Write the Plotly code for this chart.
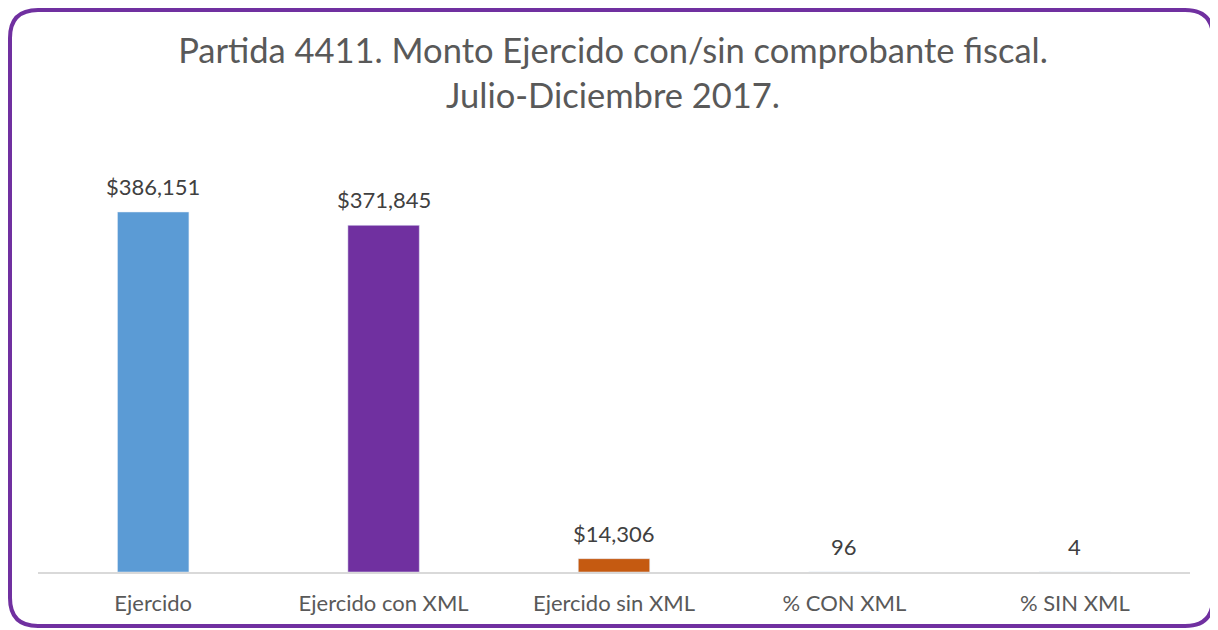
import plotly.graph_objects as go

categories = ["Ejercido", "Ejercido con XML", "Ejercido sin XML", "% CON XML", "% SIN XML"]
values = [386151, 371845, 14306, 96, 4]
labels = ["$386,151", "$371,845", "$14,306", "96", "4"]
colors = ["#5B9BD5", "#7030A0", "#C55A11", "#A5A5A5", "#FFC000"]

# page body has an 8px margin, so the figure is sized to fit the window
W, H = 1210, 622
L, R, T, B = 30, 28, 132, 58
pw, ph = W - L - R, H - T - B
FONT = "Lato"

fig = go.Figure(go.Bar(
    x=categories, y=values, marker_color=colors, width=0.31,
))

for c, v, t in zip(categories, values, labels):
    fig.add_annotation(x=c, y=v, text=t, showarrow=False, yanchor="bottom",
                       yshift=10, font=dict(size=22, color="#404040", family=FONT))

def px(x):
    return (x - L) / pw

def py(y):
    return (H - B - y) / ph

x0, x1, y0, y1, r = 2, 1205, 2, 618, 28
path = (f"M {px(x0+r)},{py(y0)} L {px(x1-r)},{py(y0)} "
        f"Q {px(x1)},{py(y0)} {px(x1)},{py(y0+r)} "
        f"L {px(x1)},{py(y1-r)} Q {px(x1)},{py(y1)} {px(x1-r)},{py(y1)} "
        f"L {px(x0+r)},{py(y1)} Q {px(x0)},{py(y1)} {px(x0)},{py(y1-r)} "
        f"L {px(x0)},{py(y0+r)} Q {px(x0)},{py(y0)} {px(x0+r)},{py(y0)} Z")

fig.update_layout(
    width=W, height=H,
    margin=dict(l=L, r=R, t=T, b=B),
    paper_bgcolor="white", plot_bgcolor="white",
    title=dict(text="Partida 4411. Monto Ejercido con/sin comprobante fiscal.<br>Julio-Diciembre 2017.",
               x=0.5, xanchor="center", y=1 - 55 / H, yanchor="middle",
               font=dict(size=34.5, color="#595959", family=FONT)),
    showlegend=False,
    xaxis=dict(showline=True, linecolor="#D9D9D9", linewidth=1.5, ticks="",
               ticklabelstandoff=11,
               tickfont=dict(size=22, color="#595959", family=FONT), showgrid=False),
    yaxis=dict(range=[0, 463381], visible=False, showgrid=False, zeroline=False),
    shapes=[dict(type="path", path=path, xref="paper", yref="paper",
                 line=dict(color="#7030A0", width=4), layer="above")],
)
fig.write_html("out.html")
